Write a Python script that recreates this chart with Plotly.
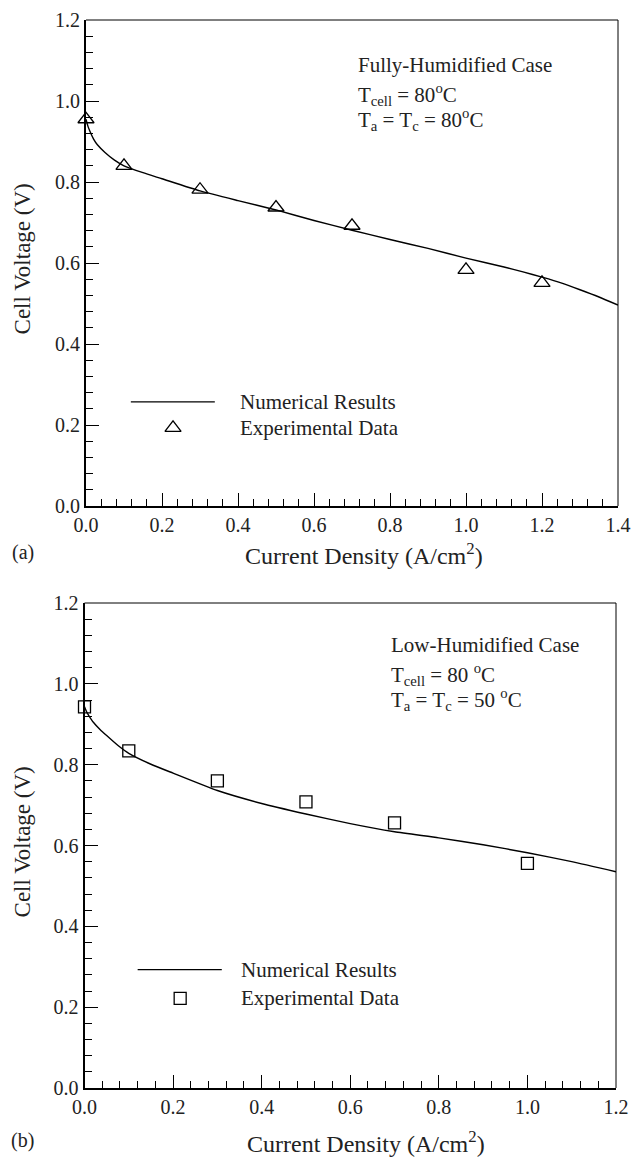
import plotly.graph_objects as go

# ---------------- data ----------------
# Panel (a): fully-humidified case
a_curve_x = [0, 0.005, 0.01, 0.02, 0.03, 0.05, 0.075, 0.1, 0.15, 0.2, 0.3, 0.4, 0.5, 0.6, 0.7, 0.8, 0.9, 1.0, 1.1, 1.15, 1.2, 1.25, 1.3, 1.35, 1.4]
a_curve_v = [0.955, 0.938, 0.926, 0.906, 0.892, 0.873, 0.854, 0.840, 0.823, 0.808, 0.778, 0.754, 0.731, 0.705, 0.681, 0.658, 0.636, 0.612, 0.590, 0.578, 0.565, 0.551, 0.534, 0.516, 0.496]
a_exp_x = [0.0, 0.1, 0.3, 0.5, 0.7, 1.0, 1.2]
a_exp_v = [0.955, 0.840, 0.781, 0.737, 0.692, 0.583, 0.551]

# Panel (b): low-humidified case
b_curve_x = [0, 0.005, 0.01, 0.02, 0.035, 0.05, 0.075, 0.1, 0.15, 0.2, 0.3, 0.4, 0.5, 0.6, 0.7, 0.8, 0.9, 1.0, 1.1, 1.2]
b_curve_v = [0.943, 0.930, 0.921, 0.905, 0.887, 0.872, 0.848, 0.828, 0.801, 0.779, 0.736, 0.704, 0.678, 0.654, 0.634, 0.619, 0.602, 0.582, 0.560, 0.535]
b_exp_x = [0.0, 0.1, 0.3, 0.5, 0.7, 1.0]
b_exp_v = [0.943, 0.834, 0.760, 0.708, 0.656, 0.556]

x_title = "Current Density (A/cm<sup>2</sup>)"
y_title = "Cell Voltage (V)"
legend_labels = ["Numerical Results", "Experimental Data"]
a_notes = ["Fully-Humidified Case", "T<sub>cell</sub> = 80<sup>o</sup>C", "T<sub>a</sub> = T<sub>c</sub> = 80<sup>o</sup>C"]
b_notes = ["Low-Humidified Case", "T<sub>cell</sub> = 80 <sup>o</sup>C", "T<sub>a</sub> = T<sub>c</sub> = 50 <sup>o</sup>C"]

# ---------------- style ----------------
FONT = "Liberation Serif"
TXT = "#222222"
W, H = 638, 1157

fig = go.Figure()

LINE = dict(color="black", width=1.4, shape="spline", smoothing=0.5)
fig.add_trace(go.Scatter(x=a_curve_x, y=a_curve_v, mode="lines", line=LINE, xaxis="x", yaxis="y", showlegend=False))
fig.add_trace(go.Scatter(x=a_exp_x, y=a_exp_v, mode="markers", cliponaxis=False,
                         marker=dict(symbol="triangle-up-open", size=14, color="black", line=dict(width=1.3)),
                         xaxis="x", yaxis="y", showlegend=False))
fig.add_trace(go.Scatter(x=b_curve_x, y=b_curve_v, mode="lines", line=LINE, xaxis="x2", yaxis="y2", showlegend=False))
fig.add_trace(go.Scatter(x=b_exp_x, y=b_exp_v, mode="markers", cliponaxis=False,
                         marker=dict(symbol="square-open", size=12, color="black", line=dict(width=1.3)),
                         xaxis="x2", yaxis="y2", showlegend=False))

# hand-placed legends (layout decoration)
LEG_A = dict(x0=0.118, x1=0.339, xm=0.229, xt=0.400, yl=0.257, ym=0.193)
LEG_B = dict(x0=0.120, x1=0.310, xm=0.216, xt=0.348, yl=0.293, ym=0.222)
for leg, xr, yr, sym, sz in [(LEG_A, "x", "y", "triangle-up-open", 14), (LEG_B, "x2", "y2", "square-open", 12)]:
    fig.add_shape(type="line", xref=xr, yref=yr, x0=leg["x0"], x1=leg["x1"], y0=leg["yl"], y1=leg["yl"],
                  line=dict(color="black", width=1.2))
    fig.add_trace(go.Scatter(x=[leg["xm"]], y=[leg["ym"]], mode="markers", xaxis=xr, yaxis=yr, showlegend=False,
                             marker=dict(symbol=sym, size=sz, color="black", line=dict(width=1.3))))
    fig.add_annotation(x=leg["xt"], y=leg["yl"], xref=xr, yref=yr, text=legend_labels[0], showarrow=False,
                       xanchor="left", yanchor="middle", font=dict(family=FONT, size=21, color=TXT))
    fig.add_annotation(x=leg["xt"], y=leg["ym"], xref=xr, yref=yr, text=legend_labels[1], showarrow=False,
                       xanchor="left", yanchor="middle", font=dict(family=FONT, size=21, color=TXT))

# condition notes
for notes, xr, yr, xpos, ys in [(a_notes, "x", "y", 0.711, [1.089, 1.017, 0.955]),
                                (b_notes, "x2", "y2", 0.687, [1.096, 1.024, 0.962])]:
    for t, yy in zip(notes, ys):
        fig.add_annotation(x=xpos, y=yy, xref=xr, yref=yr, text=t, showarrow=False,
                           xanchor="left", yanchor="middle", font=dict(family=FONT, size=21, color=TXT))

# frame top/right thin lines
for xr, yr in [("x domain", "y domain"), ("x2 domain", "y2 domain")]:
    fig.add_shape(type="line", xref=xr, yref=yr, x0=0, x1=1, y0=1, y1=1, line=dict(color="black", width=1))
    fig.add_shape(type="line", xref=xr, yref=yr, x0=1, x1=1, y0=0, y1=1, line=dict(color="black", width=1))

# axis titles and panel labels
for xc, yc, ylab_y, lab in [(0.5705, 1 - 554 / H, 0.7766, "(a)"), (0.5729, 1 - 1142 / H, 0.2727, "(b)")]:
    fig.add_annotation(x=xc, y=yc, xref="paper", yref="paper", text=x_title, showarrow=False,
                       xanchor="center", yanchor="middle", font=dict(family=FONT, size=24, color=TXT))
    fig.add_annotation(x=0.036, y=ylab_y, xref="paper", yref="paper", text=y_title, showarrow=False, textangle=-90,
                       xanchor="center", yanchor="middle", font=dict(family=FONT, size=23, color=TXT))
    fig.add_annotation(x=0.0353, y=yc + 2 / H, xref="paper", yref="paper", text=lab, showarrow=False,
                       xanchor="center", yanchor="middle", font=dict(family=FONT, size=20, color=TXT))

def axis_cfg(rng, dom, anchor):
    return dict(range=rng, domain=dom, anchor=anchor, dtick=0.2, tick0=0, tickformat=".1f",
                ticks="inside", ticklen=13, tickwidth=1.3, tickcolor="black",
                minor=dict(dtick=0.04, tick0=0, ticks="inside", ticklen=7, tickwidth=1, tickcolor="black"),
                showline=True, linewidth=2, linecolor="black", showgrid=False, zeroline=False,
                automargin=False, tickfont=dict(family=FONT, size=20, color=TXT), fixedrange=True)

fig.update_layout(
    width=W, height=H, margin=dict(l=0, r=0, t=0, b=0, autoexpand=False),
    paper_bgcolor="white", plot_bgcolor="white", showlegend=False,
    font=dict(family=FONT, color=TXT),
    xaxis=axis_cfg([0, 1.4], [86 / W, 618 / W], "y"),
    yaxis=axis_cfg([0, 1.2], [1 - 506 / H, 1 - 20 / H], "x"),
    xaxis2=axis_cfg([0, 1.2], [84.5 / W, 616 / W], "y2"),
    yaxis2=axis_cfg([0, 1.2], [1 - 1088 / H, 1 - 603 / H], "x2"),
)

fig.write_html("out.html")
